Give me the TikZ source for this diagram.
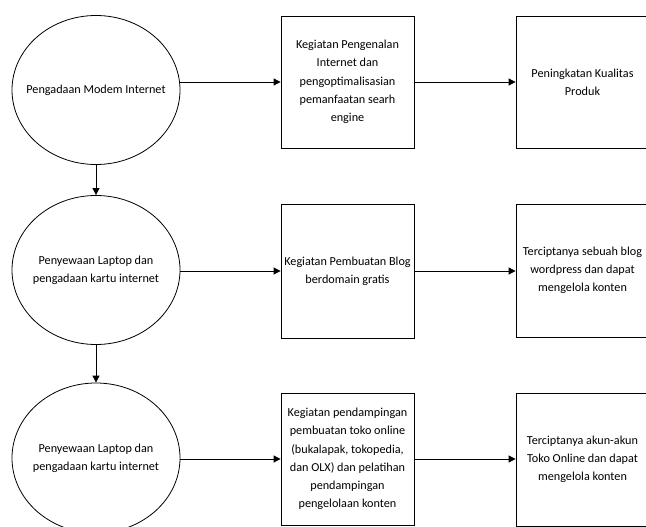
\documentclass[tikz,border=0pt]{standalone}
\usepackage{fontspec}
\setmainfont{Carlito}
\usepackage{tikz}
\usetikzlibrary{arrows.meta,shapes.geometric}

\tikzset{
  proses/.style={ellipse, draw, line width=0.8pt, minimum width=168pt, minimum height=149pt, inner xsep=-30pt, inner ysep=0pt, align=center},
  kegiatan/.style={rectangle, draw, line width=0.8pt, minimum width=133pt, minimum height=132pt, inner sep=0pt, align=center},
  alur/.style={line width=0.8pt, -{Triangle[length=7pt,width=7pt]}}
}

\begin{document}
\begin{tikzpicture}[x=1pt, y=-1pt, font=\fontsize{12.2}{18.3}\selectfont]
    \useasboundingbox (0,0) rectangle (646,527);
    % kolom kiri
    \node[proses] (e1) at (96,90) {Pengadaan Modem Internet};
    \node[proses] (e2) at (96,270) {Penyewaan Laptop dan\\pengadaan kartu internet};
    \node[proses, minimum height=150pt] (e3) at (96,458) {Penyewaan Laptop dan\\pengadaan kartu internet};
    % kolom tengah
    \node[kegiatan] (k1) at (347.5,82) {Kegiatan Pengenalan\\Internet dan\\pengoptimalisasian\\pemanfaatan searh\\engine};
    \node[kegiatan, minimum height=134pt] (k2) at (347.5,271) {Kegiatan Pembuatan Blog\\berdomain gratis};
    \node[kegiatan] (k3) at (347.5,459) {Kegiatan pendampingan\\pembuatan toko online\\(bukalapak, tokopedia,\\dan OLX) dan pelatihan\\pendampingan\\pengelolaan konten};
    % kolom kanan
    \node[kegiatan] (h1) at (582.5,82) {Peningkatan Kualitas\\Produk};
    \node[kegiatan, minimum height=133pt] (h2) at (582.5,270.5) {Terciptanya sebuah blog\\wordpress dan dapat\\mengelola konten};
    \node[kegiatan, minimum height=133pt] (h3) at (582.5,459.5) {Terciptanya akun-akun\\Toko Online dan dapat\\mengelola konten};
    % panah
    \draw[alur] (e1.south) -- (e2.north);
    \draw[alur] (e2.south) -- (e3.north);
    \draw[alur] (e1.east |- k1.west) -- (k1.west);
    \draw[alur] (e2.east |- k2.west) -- (k2.west);
    \draw[alur] (e3.east |- k3.west) -- (k3.west);
    \draw[alur] (k1.east) -- (h1.west);
    \draw[alur] (k2.east) -- (h2.west |- k2.east);
    \draw[alur] (k3.east) -- (h3.west |- k3.east);
  \end{tikzpicture}
\end{document}
